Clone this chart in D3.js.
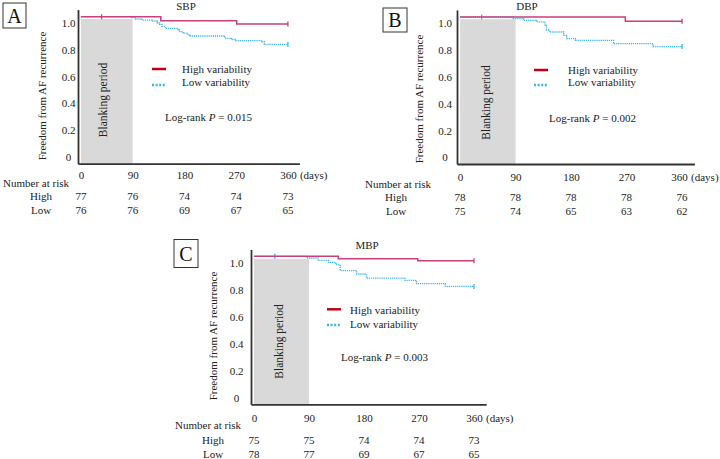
<!DOCTYPE html>
<html>
<head>
<meta charset="utf-8">
<script src="https://cdn.jsdelivr.net/npm/d3@7"></script>
<style>
  body { margin: 0; background: #fff; }
  svg { display: block; }
</style>
</head>
<body>
<div id="chart"></div>
<script>
// Kaplan-Meier curves: freedom from AF recurrence by BP variability

const FONT = "'Liberation Serif', 'Times New Roman', serif";
const HIGH_COLOR = "#c8407a";
const LOW_COLOR = "#3ab3f2";

const tickDays = [0, 90, 180, 270, 360];
const yTicks = [0, 0.2, 0.4, 0.6, 0.8, 1.0];
const groupNames = ["High variability", "Low variability"];

// SBP
const sbpHighDays = [0, 139, 271, 360];
const sbpHighSurv = [1.047, 1.017, 0.993, 0.993];
const sbpLowDays = [0, 88, 95, 106, 124, 133, 137, 141, 147, 169, 171, 178, 186, 189, 249, 252, 262, 269, 315, 319, 360];
const sbpLowSurv = [1.047, 1.040, 1.030, 1.022, 1.015, 1.000, 0.990, 0.975, 0.960, 0.950, 0.935, 0.925, 0.910, 0.903, 0.895, 0.886, 0.877, 0.868, 0.860, 0.840, 0.840];
const sbpHighCensor = [36, 360];
const sbpLowCensor = [360];
const sbpRiskHigh = [77, 76, 74, 74, 73];
const sbpRiskLow = [76, 76, 69, 67, 65];

// DBP
const dbpHighDays = [0, 268, 360];
const dbpHighSurv = [1.047, 1.015, 1.015];
const dbpLowDays = [0, 86, 103, 124, 138, 140, 145, 168, 173, 187, 249, 313, 360];
const dbpLowSurv = [1.047, 1.035, 1.022, 1.010, 0.985, 0.950, 0.935, 0.910, 0.886, 0.873, 0.848, 0.826, 0.826];
const dbpHighCensor = [360];
const dbpLowCensor = [35, 360];
const dbpRiskHigh = [78, 78, 78, 78, 76];
const dbpRiskLow = [75, 74, 65, 63, 62];

// MBP
const mbpHighDays = [0, 138, 268, 360];
const mbpHighSurv = [1.049, 1.032, 1.017, 1.017];
const mbpLowDays = [0, 86, 105, 122, 134, 141, 168, 184, 247, 266, 313, 360];
const mbpLowSurv = [1.049, 1.037, 1.019, 1.004, 0.987, 0.943, 0.918, 0.888, 0.871, 0.846, 0.826, 0.826];
const mbpHighCensor = [360];
const mbpLowCensor = [34, 360];
const mbpRiskHigh = [75, 75, 74, 74, 73];
const mbpRiskLow = [78, 77, 69, 67, 65];

const panels = [
  { letter: "A", title: "SBP", pValue: "0.015",
    high: { days: sbpHighDays, surv: sbpHighSurv, censor: sbpHighCensor },
    low: { days: sbpLowDays, surv: sbpLowSurv, censor: sbpLowCensor },
    riskHigh: sbpRiskHigh, riskLow: sbpRiskLow,
    layout: { box: [3, 3, 23, 25], titleX: 186, titleY: 9.5, xr: [78, 299.4], yr: [163.7, 9.6],
      yLabOff: 9.5, yTitleX: 42, yTitleY: 96, xPad: 7.5, lastShift: 0, daysGap: 12, legX: 152, legTextX: 182, legY: [69, 85],
      legTextY: [72.5, 85.5], logX: 165, logY: 120.5, blankX: 103, blankY: 100,
      riskX: 3, riskY: 187, groupX: 41, rowY: [200, 214] } },
  { letter: "B", title: "DBP", pValue: "0.002",
    high: { days: dbpHighDays, surv: dbpHighSurv, censor: dbpHighCensor },
    low: { days: dbpLowDays, surv: dbpLowSurv, censor: dbpLowCensor },
    riskHigh: dbpRiskHigh, riskLow: dbpRiskLow,
    layout: { box: [383, 8, 24, 24], titleX: 527, titleY: 9.5, xr: [457, 694.4], yr: [164, 9.9],
      yLabOff: 12, yTitleX: 419, yTitleY: 99, xPad: 9, lastShift: -3, daysGap: 9, legX: 534, legTextX: 568, legY: [70, 85],
      legTextY: [73.5, 86], logX: 549, logY: 122, blankX: 486, blankY: 102.5,
      riskX: 365, riskY: 188, groupX: 396, rowY: [201, 215] } },
  { letter: "C", title: "MBP", pValue: "0.003",
    high: { days: mbpHighDays, surv: mbpHighSurv, censor: mbpHighCensor },
    low: { days: mbpLowDays, surv: mbpLowSurv, censor: mbpLowCensor },
    riskHigh: mbpRiskHigh, riskLow: mbpRiskLow,
    layout: { box: [174, 239.5, 24, 28], titleX: 367, titleY: 249, xr: [251, 486.2], yr: [404.4, 249.5],
      yLabOff: 14.5, yTitleX: 213, yTitleY: 336, xPad: 9.5, lastShift: 0, daysGap: 12, legX: 327, legTextX: 350, legY: [309.3, 325],
      legTextY: [313.5, 328], logX: 341, logY: 360.5, blankX: 279, blankY: 341.5,
      riskX: 175, riskY: 429, groupX: 213, rowY: [444, 458] } }
];

const svg = d3.select("#chart").append("svg")
  .attr("width", 720)
  .attr("height", 459)
  .style("font-family", FONT);

function survAt(days, surv, t) {
  let v = surv[0];
  for (let i = 0; i < days.length; i++) if (days[i] <= t) v = surv[i];
  return v;
}

panels.forEach(p => {
  const L = p.layout;
  const g = svg.append("g");
  const x = d3.scaleLinear().domain([-5, 380]).range(L.xr);
  const y = d3.scaleLinear().domain([-0.05, 1.1]).range(L.yr);

  // panel letter box
  g.append("rect")
    .attr("x", L.box[0]).attr("y", L.box[1])
    .attr("width", L.box[2]).attr("height", L.box[3])
    .attr("fill", "none").attr("stroke", "#333").attr("stroke-width", 1);
  g.append("text")
    .attr("x", L.box[0] + L.box[2] / 2).attr("y", L.box[1] + L.box[3] / 2 + 7)
    .attr("text-anchor", "middle").attr("font-size", 20).attr("fill", "#111")
    .text(p.letter);

  // blanking period
  g.append("rect")
    .attr("x", x(0)).attr("y", y(1.03))
    .attr("width", x(90) - x(0)).attr("height", y(-0.05) - y(1.03))
    .attr("fill", "#d9d9d9");
  g.append("text")
    .attr("transform", `translate(${L.blankX},${L.blankY}) rotate(-90)`)
    .attr("text-anchor", "middle").attr("dy", "0.35em")
    .attr("font-size", 11.5).attr("fill", "#222")
    .text("Blanking period");

  // axes
  const yAxis = g.append("g")
    .attr("transform", `translate(${L.xr[0]},0)`)
    .call(d3.axisLeft(y).tickValues(yTicks).tickSize(0).tickSizeOuter(0)
      .tickFormat(d => d === 0 ? "0" : d3.format(".1f")(d)));
  yAxis.select(".domain").attr("stroke", "#333").attr("stroke-width", 1.8);
  yAxis.selectAll("text")
    .attr("x", -L.yLabOff).attr("text-anchor", "middle")
    .attr("font-family", FONT).attr("font-size", 11).attr("fill", "#222");

  const xAxis = g.append("g")
    .attr("transform", `translate(0,${L.yr[0]})`)
    .call(d3.axisBottom(x).tickValues(tickDays).tickSize(0).tickSizeOuter(0).tickPadding(L.xPad));
  xAxis.select(".domain").attr("stroke", "#333").attr("stroke-width", 1.8);
  xAxis.selectAll("text")
    .attr("font-family", FONT).attr("font-size", 11).attr("fill", "#222")
    .attr("dx", d => d === 360 ? L.lastShift : 0);
  g.append("text")
    .attr("x", x(360) + L.daysGap).attr("y", L.yr[0] + L.xPad).attr("dy", "0.71em")
    .attr("font-size", 11).attr("fill", "#222")
    .text("(days)");

  // y axis title
  g.append("text")
    .attr("transform", `translate(${L.yTitleX},${L.yTitleY}) rotate(-90)`)
    .attr("text-anchor", "middle").attr("dy", "0.35em")
    .attr("font-size", 11).attr("fill", "#222")
    .text("Freedom from AF recurrence");

  // title
  g.append("text")
    .attr("x", L.titleX).attr("y", L.titleY)
    .attr("text-anchor", "middle").attr("font-size", 11).attr("fill", "#222")
    .text(p.title);

  // curves
  const line = d3.line()
    .x(d => x(d[0]))
    .y(d => y(d[1]))
    .curve(d3.curveStepAfter);

  const series = [
    { s: p.low, color: LOW_COLOR, dash: "1.2,0.9", width: 1.3 },
    { s: p.high, color: HIGH_COLOR, dash: null, width: 1.5 }
  ];
  series.forEach(sr => {
    const pts = sr.s.days.map((d, i) => [d, sr.s.surv[i]]);
    g.append("path")
      .attr("d", line(pts))
      .attr("fill", "none")
      .attr("stroke", sr.color)
      .attr("stroke-width", sr.width)
      .attr("stroke-dasharray", sr.dash);
    g.selectAll(null)
      .data(sr.s.censor)
      .join("line")
      .attr("x1", d => x(d)).attr("x2", d => x(d))
      .attr("y1", d => y(survAt(sr.s.days, sr.s.surv, d)) - 2.5)
      .attr("y2", d => y(survAt(sr.s.days, sr.s.surv, d)) + 2.5)
      .attr("stroke", sr.color).attr("stroke-width", 1.3);
  });

  // legend
  g.append("line")
    .attr("x1", L.legX).attr("x2", L.legX + 14)
    .attr("y1", L.legY[0]).attr("y2", L.legY[0])
    .attr("stroke", "#c00018").attr("stroke-width", 2.5);
  g.append("line")
    .attr("x1", L.legX).attr("x2", L.legX + 14)
    .attr("y1", L.legY[1]).attr("y2", L.legY[1])
    .attr("stroke", LOW_COLOR).attr("stroke-width", 2.5)
    .attr("stroke-dasharray", "2,1.6");
  groupNames.forEach((name, i) => {
    g.append("text")
      .attr("x", L.legTextX).attr("y", L.legTextY[i])
      .attr("font-size", 11).attr("fill", "#222")
      .text(name);
  });

  // log-rank
  const lr = g.append("text")
    .attr("x", L.logX).attr("y", L.logY)
    .attr("font-size", 11).attr("fill", "#222");
  lr.append("tspan").text("Log-rank ");
  lr.append("tspan").attr("font-style", "italic").text("P");
  lr.append("tspan").text(" = " + p.pValue);

  // number at risk
  g.append("text")
    .attr("x", L.riskX).attr("y", L.riskY)
    .attr("font-size", 11).attr("fill", "#222")
    .text("Number at risk");
  [["High", p.riskHigh], ["Low", p.riskLow]].forEach(([name, vals], i) => {
    g.append("text")
      .attr("x", L.groupX).attr("y", L.rowY[i])
      .attr("text-anchor", "middle").attr("font-size", 11).attr("fill", "#222")
      .text(name);
    g.selectAll(null)
      .data(vals)
      .join("text")
      .attr("x", (d, j) => x(tickDays[j]))
      .attr("y", L.rowY[i])
      .attr("text-anchor", "middle").attr("font-size", 11).attr("fill", "#222")
      .text(d => d);
  });
});
</script>
</body>
</html>
